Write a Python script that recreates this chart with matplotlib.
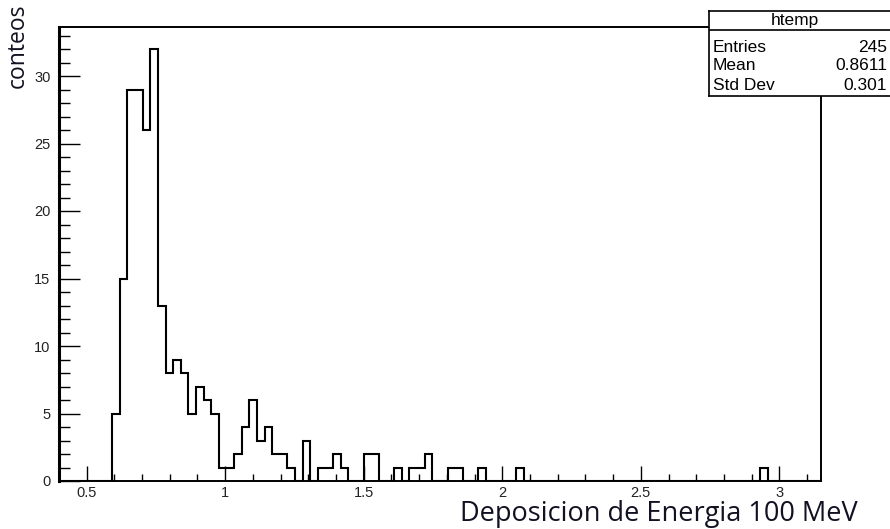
import numpy as np
import matplotlib
matplotlib.use("Agg")
import matplotlib.pyplot as plt
from matplotlib.ticker import MultipleLocator

# histogram "htemp": 100 bins from 0.4 to 3.15
x_min = 0.4
x_max = 3.15
counts = [0, 0, 0, 0, 0, 0, 0, 5, 15, 29,
          29, 26, 32, 13, 8, 9, 8, 5, 7, 6,
          5, 1, 1, 2, 4, 6, 3, 4, 2, 2,
          1, 0, 3, 0, 1, 1, 2, 1, 0, 0,
          2, 2, 0, 0, 1, 0, 1, 1, 2, 0,
          0, 1, 1, 0, 0, 1, 0, 0, 0, 0,
          1, 0, 0, 0, 0, 0, 0, 0, 0, 0,
          0, 0, 0, 0, 0, 0, 0, 0, 0, 0,
          0, 0, 0, 0, 0, 0, 0, 0, 0, 0,
          0, 0, 1, 0, 0, 0, 0, 0, 0, 0]
xticks = [0.5, 1, 1.5, 2, 2.5, 3]
xticklabels = ['0.5', '1', '1.5', '2', '2.5', '3']
yticks = [0, 5, 10, 15, 20, 25, 30]

stat_names = ['Entries', 'Mean', 'Std Dev']
stat_values = ['245', '0.8611', '0.301']

W, H = 890, 529
fig = plt.figure(figsize=(W / 100, H / 100), dpi=100)
ax = fig.add_axes([58.8 / W, 1 - 481 / H, (821 - 58.8) / W, (481 - 27.4) / H])

edges = np.linspace(x_min, x_max, len(counts) + 1)
ax.stairs(counts, edges, color='black', lw=1.5, baseline=0)
ax.set_xlim(x_min, x_max)
ax.set_ylim(0, 1.05 * max(counts))

ax.set_xticks(xticks)
ax.set_xticklabels(xticklabels)
ax.set_yticks(yticks)
ax.xaxis.set_minor_locator(MultipleLocator(0.1))
ax.yaxis.set_minor_locator(MultipleLocator(1))
ax.tick_params(axis='y', which='major', direction='in', length=15, width=1.0, pad=6,
               labelsize=10.5, labelcolor='#222222', labelfontfamily='Liberation Sans')
ax.tick_params(axis='y', which='minor', direction='in', length=8, width=1.0)
ax.tick_params(axis='x', which='major', direction='in', length=11, width=1.0, pad=3.5,
               labelsize=10.5, labelcolor='#222222', labelfontfamily='Liberation Sans')
ax.tick_params(axis='x', which='minor', direction='in', length=5, width=1.0)
ax.spines['left'].set_linewidth(2.2)
for s in ['top', 'right', 'bottom']:
    ax.spines[s].set_linewidth(1.4)

# axis titles (added later in an office tool)
fig.text(858 / W, 1 - 514 / H, 'Deposicion de Energia 100 MeV', ha='right', va='center',
         fontsize=19.5, family='Open Sans', color='#111122')
fig.text(18 / W, 1 - 46 / H, 'conteos', rotation=90, ha='center', va='center',
         fontsize=16.5, family='Open Sans', color='#111122')

# stats box
bx = fig.add_axes([709 / W, 1 - 96 / H, (905 - 709) / W, (96 - 11) / H])
bx.set_xlim(709, 905)
bx.set_ylim(96, 11)
bx.set_xticks([])
bx.set_yticks([])
for s in bx.spines.values():
    s.set_linewidth(1.2)
bx.axhline(30, color='black', lw=1.2)
bx.text(795, 20, 'htemp', ha='center', va='center', fontsize=12.5, family='Liberation Sans')
for i, (n, v) in enumerate(zip(stat_names, stat_values)):
    y = 47 + 19 * i
    bx.text(713, y, n, ha='left', va='center', fontsize=12.5, family='Liberation Sans')
    bx.text(887, y, v, ha='right', va='center', fontsize=12.5, family='Liberation Sans')

fig.savefig('out.png', dpi=100)
